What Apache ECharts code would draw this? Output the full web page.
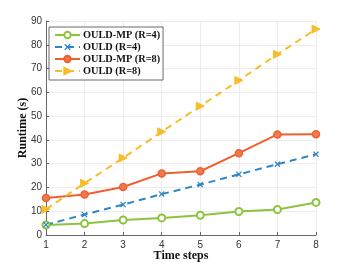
<!DOCTYPE html>
<html><head><meta charset="utf-8">
<script src="https://cdn.jsdelivr.net/npm/echarts@6/dist/echarts.min.js"></script>
<style>html,body{margin:0;padding:0;background:#fff}#c{width:351px;height:264px}</style>
</head><body><div id="c"></div>
<script>
var steps = [1, 2, 3, 4, 5, 6, 7, 8];
var mpR4 = [4.2, 4.8, 6.3, 7.2, 8.3, 9.9, 10.7, 13.7];
var ouldR4 = [4.3, 8.6, 12.8, 17.2, 21.2, 25.5, 29.8, 34.0];
var mpR8 = [15.6, 17.0, 20.2, 25.9, 26.8, 34.4, 42.3, 42.4];
var ouldR8 = [10.8, 21.8, 32.4, 43.4, 54.2, 65.0, 76.0, 86.6];
var names = ['OULD-MP (R=4)', 'OULD (R=4)', 'OULD-MP (R=8)', 'OULD (R=8)'];

function pairs(v){ return steps.map(function(s,i){ return [s, v[i]]; }); }
var xPath = 'path://M0,1.5L1.5,0L5,3.5L8.5,0L10,1.5L6.5,5L10,8.5L8.5,10L5,6.5L1.5,10L0,8.5L3.5,5Z';

var chart = echarts.init(document.getElementById('c'));
chart.setOption({
  animation: false,
  grid: {left: 46, right: 35, top: 21, bottom: 29, containLabel: false, outerBoundsMode: 'none'},
  legend: {
    orient: 'vertical', left: 49, top: 27, itemWidth: 25, itemHeight: 8, itemGap: 2,
    padding: [3, 3, 4, 5], borderColor: '#444', borderWidth: 0.8, backgroundColor: '#fff',
    textStyle: {fontFamily: 'Liberation Serif', fontWeight: 'bold', fontSize: 10.3, color: '#111', padding: [0,0,0,-2]},
    data: names
  },
  xAxis: {
    type: 'value', min: 1, max: 8, interval: 1,
    name: 'Time steps', nameLocation: 'middle', nameGap: 15, nameMoveOverlap: false,
    nameTextStyle: {fontFamily: 'Liberation Serif', fontWeight: 'bold', fontSize: 12, color: '#111'},
    axisLine: {lineStyle: {color: '#666', width: 1}},
    axisTick: {inside: true, length: 3, lineStyle: {color: '#666'}},
    axisLabel: {fontFamily: 'Liberation Sans', fontSize: 10, color: '#333', margin: 5},
    splitLine: {show: true, lineStyle: {color: '#ececec', width: 1}}
  },
  yAxis: {
    type: 'value', min: 0, max: 90, interval: 10,
    name: 'Runtime (s)', nameLocation: 'middle', nameGap: 17, nameMoveOverlap: false,
    nameTextStyle: {fontFamily: 'Liberation Serif', fontWeight: 'bold', fontSize: 12, color: '#111'},
    axisLine: {show: true, lineStyle: {color: '#666', width: 1}},
    axisTick: {show: true, inside: true, length: 3, lineStyle: {color: '#666'}},
    axisLabel: {fontFamily: 'Liberation Sans', fontSize: 10, color: '#333', margin: 4},
    splitLine: {show: true, lineStyle: {color: '#ececec', width: 1}}
  },
  series: [
    {name: names[0], type: 'line', data: pairs(mpR4), symbol: 'emptyCircle', symbolSize: 7,
     lineStyle: {color: '#8dc43f', width: 2}, itemStyle: {color: '#8dc43f', borderWidth: 1.6}},
    {name: names[1], type: 'line', data: pairs(ouldR4), symbol: xPath, symbolSize: 6,
     lineStyle: {color: '#2f86c6', width: 2, type: [7, 5]}, itemStyle: {color: '#2f86c6'}},
    {name: names[2], type: 'line', data: pairs(mpR8), symbol: 'circle', symbolSize: 7,
     lineStyle: {color: '#ef6030', width: 2}, itemStyle: {color: '#f07a50', borderColor: '#ef6030', borderWidth: 1.5}},
    {name: names[3], type: 'line', data: pairs(ouldR8), symbol: 'triangle', symbolRotate: -90, symbolSize: 8,
     lineStyle: {color: '#f8bd2d', width: 2, type: [7, 5]}, itemStyle: {color: '#f8bd2d', borderColor: '#f8bd2d', borderWidth: 1}}
  ]
});
</script></body></html>
